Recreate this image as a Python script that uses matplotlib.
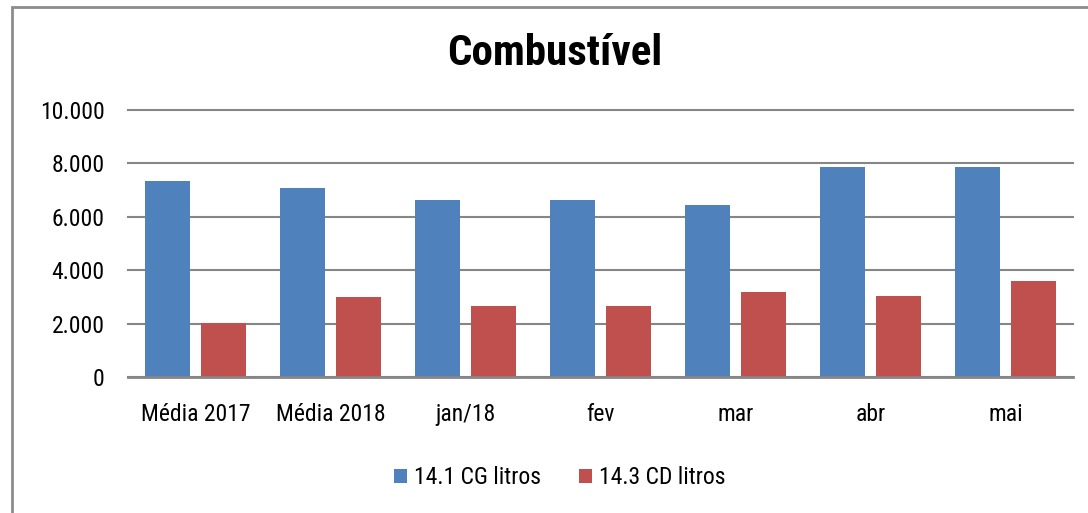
import matplotlib.pyplot as plt
import numpy as np
from matplotlib.patches import Rectangle

categorias = ["Média 2017", "Média 2018", "jan/18", "fev", "mar", "abr", "mai"]
cg_litros = [7330, 7080, 6620, 6620, 6440, 7860, 7860]
cd_litros = [2040, 3000, 2660, 2660, 3180, 3020, 3610]
yticks = [0, 2000, 4000, 6000, 8000, 10000]
ytick_labels = ["0", "2.000", "4.000", "6.000", "8.000", "10.000"]

plt.rcParams["font.family"] = ["Liberation Sans Narrow", "Roboto Condensed",
                               "Liberation Sans", "DejaVu Sans"]

W, H = 1088, 513
fig = plt.figure(figsize=(W / 100, H / 100), dpi=100)
ax = fig.add_axes([128 / W, 1 - 377 / H, (1073 - 128) / W, (377 - 110) / H])

# chart frame (cut off at right/bottom)
fig.patches.append(Rectangle((12 / W, -0.05), 1.1, 1 - 7 / H + 0.05,
                             transform=fig.transFigure, fill=False,
                             edgecolor="#8c8c8c", linewidth=2))

x = np.arange(len(categorias))
w = 0.333
off = 0.207
ax.bar(x - off, cg_litros, w, color="#4F81BD", label="14.1 CG litros", zorder=3)
ax.bar(x + off, cd_litros, w, color="#C0504D", label="14.3 CD litros", zorder=3)

ax.set_xlim(-0.5, len(categorias) - 0.5)
ax.set_ylim(0, 10000)
ax.set_yticks(yticks)
ax.set_yticklabels(ytick_labels)
ax.set_xticks(x)
ax.set_xticklabels(categorias)
ax.tick_params(axis="both", length=0, labelsize=17, colors="black")
ax.tick_params(axis="y", pad=17)
ax.tick_params(axis="x", pad=19)
ax.yaxis.grid(True, color="#868686", linewidth=1.5, zorder=0)
for line in ax.get_ygridlines():
    line.set_clip_on(False)
for side in ["top", "right", "left"]:
    ax.spines[side].set_visible(False)
ax.spines["bottom"].set_color("#868686")
ax.spines["bottom"].set_linewidth(2)
ax.spines["bottom"].set_zorder(4)

fig.text(555 / W, 1 - 65 / H, "Combustível", ha="center", va="baseline",
         fontsize=31, fontweight="bold")

fig.legend(loc="center", bbox_to_anchor=(560 / W, 1 - 478 / H), ncol=2,
           frameon=False, fontsize=17, handlelength=0.55, handleheight=0.55,
           handletextpad=0.3, columnspacing=1.6)

fig.savefig("out.png", dpi=100)
